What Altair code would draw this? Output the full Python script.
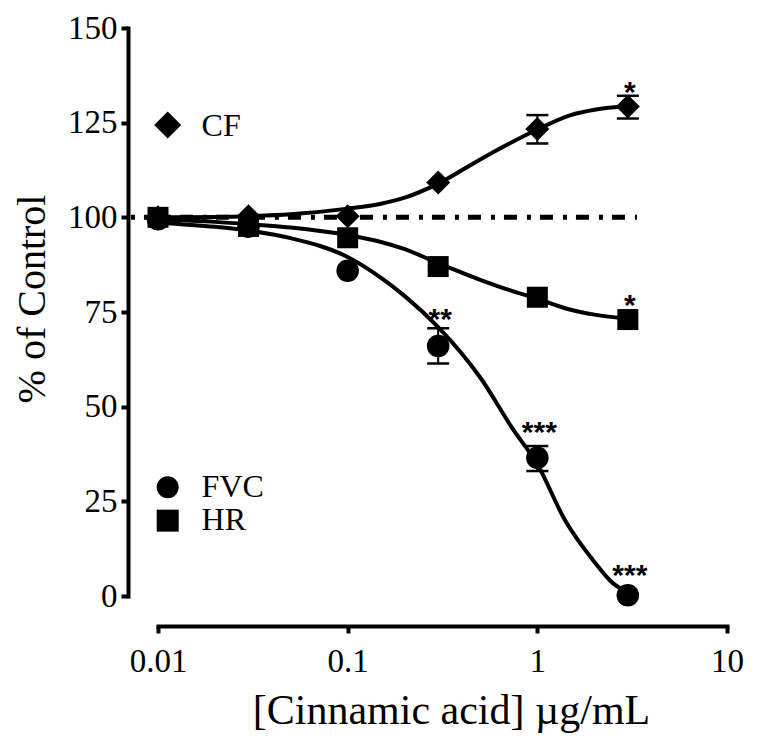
import altair as alt
import pandas as pd

# ---- measured data (means) ----
dose = [0.01, 0.03, 0.1, 0.3, 1, 3]
cf_mean = [100.0, 100.3, 100.3, 109.2, 123.3, 129.3]
hr_mean = [100.0, 97.6, 94.6, 87.0, 78.9, 73.0]
fvc_mean = [99.5, 97.5, 85.9, 66.0, 36.5, 0.2]

# ---- error bars (SEM) ----
err_series = ["CF", "CF", "FVC", "FVC"]
err_dose = [1, 3, 0.3, 1]
err_lo = [119.5, 126.1, 61.4, 33.0]
err_hi = [127.0, 132.1, 70.7, 39.6]

# ---- fitted curves ----
cf_fit_x = [0.01, 0.02, 0.03, 0.05, 0.1, 0.15, 0.2, 0.3, 0.5, 0.7, 1, 1.5, 2, 3]
cf_fit_y = [100.0, 100.1, 100.3, 100.8, 102.3, 103.6, 105.2, 108.9, 115.3, 119.3, 123.2, 127.0, 128.4, 129.4]
hr_fit_x = [0.01, 0.02, 0.03, 0.05, 0.1, 0.15, 0.2, 0.3, 0.5, 0.7, 1, 1.5, 2, 3]
hr_fit_y = [99.4, 98.8, 98.2, 97.3, 95.3, 93.5, 91.6, 87.9, 83.5, 80.9, 78.5, 75.6, 74.3, 73.2]
fvc_fit_x = [0.01, 0.02, 0.03, 0.05, 0.1, 0.15, 0.2, 0.3, 0.5, 0.75, 1, 1.4, 2, 2.5, 3]
fvc_fit_y = [98.6, 97.5, 96.5, 94.5, 89.5, 84.0, 79.2, 71.0, 57.7, 43.8, 34.8, 20.0, 9.0, 3.4, 1.0]

# ---- control (100 %) reference line ----
ref_x = [0.0072, 3.35]
ref_y = 100

# ---- significance marks ----
star_text = ["*", "*", "**", "***", "***"]
star_x = [3, 3, 0.3, 1, 3]
star_y = [134.9, 78.8, 75.0, 45.1, 7.3]

# ---- in-plot legend ----
legend_label = ["CF", "FVC", "HR"]
legend_shape = ["diamond", "circle", "square"]
legend_x = 0.01125
legend_y = [124.4, 28.7, 19.9]
legend_text_x = 0.01698
legend_text_y = [121.5, 26.2, 17.4]

series = ["CF", "FVC", "HR"]
shapes = ["diamond", "circle", "square"]
sizes = [576, 441, 462]

points = pd.DataFrame({
    "dose": dose * 3,
    "value": cf_mean + fvc_mean + hr_mean,
    "series": ["CF"] * 6 + ["FVC"] * 6 + ["HR"] * 6,
})
fits = pd.DataFrame({
    "dose": cf_fit_x + fvc_fit_x + hr_fit_x,
    "value": cf_fit_y + fvc_fit_y + hr_fit_y,
    "series": ["CF"] * len(cf_fit_x) + ["FVC"] * len(fvc_fit_x) + ["HR"] * len(hr_fit_x),
})
errs = pd.DataFrame({"series": err_series, "dose": err_dose, "lo": err_lo, "hi": err_hi})
ref = pd.DataFrame({"x1": [ref_x[0]], "x2": [ref_x[1]], "y": [ref_y]})
stars = pd.DataFrame({"t": star_text, "dose": star_x, "value": star_y})

xscale = alt.Scale(type="log", domain=[0.01, 10])
yscale = alt.Scale(domain=[0, 150])

xaxis = alt.Axis(
    values=[0.01, 0.1, 1, 10], format="~g", title="[Cinnamic acid] µg/mL",
    offset=30, labelPadding=12, labelFlush=False, labelFontSize=33,
    titleFontSize=42, titleX=293, titleY=97, titleBaseline="alphabetic",
    titleAlign="center", grid=False,
)
yaxis = alt.Axis(
    values=[0, 25, 50, 75, 100, 125, 150], title="% of Control",
    offset=30, labelPadding=4, labelFontSize=33,
    titleFontSize=40, titleX=-84, titleY=270.5, titleAngle=270,
    titleBaseline="alphabetic", titleAlign="center", grid=False,
)

X = alt.X("dose:Q", scale=xscale, axis=xaxis)
Y = alt.Y("value:Q", scale=yscale, axis=yaxis)

ref_layer = alt.Chart(ref).mark_rule(
    color="black", strokeWidth=5, strokeDash=[4, 9, 13, 10], strokeCap="butt"
).encode(
    x=alt.X("x1:Q", scale=xscale, axis=xaxis),
    x2="x2:Q",
    y=alt.Y("y:Q", scale=yscale, axis=yaxis),
)

fit_layer = alt.Chart(fits).mark_line(
    color="black", strokeWidth=4, interpolate="monotone"
).encode(x=X, y=Y, detail="series:N")

err_rule = alt.Chart(errs).mark_rule(color="black", strokeWidth=2).encode(
    x=alt.X("dose:Q", scale=xscale, axis=xaxis),
    y=alt.Y("lo:Q", scale=yscale, axis=yaxis),
    y2="hi:Q",
)
err_lo_tick = alt.Chart(errs).mark_tick(
    color="black", orient="horizontal", size=22, thickness=2.5, opacity=1
).encode(x=alt.X("dose:Q", scale=xscale, axis=xaxis), y=alt.Y("lo:Q", scale=yscale, axis=yaxis))
err_hi_tick = alt.Chart(errs).mark_tick(
    color="black", orient="horizontal", size=22, thickness=2.5, opacity=1
).encode(x=alt.X("dose:Q", scale=xscale, axis=xaxis), y=alt.Y("hi:Q", scale=yscale, axis=yaxis))

point_layer = alt.Chart(points).mark_point(
    filled=True, color="black", opacity=1, strokeWidth=0
).encode(
    x=X, y=Y,
    shape=alt.Shape("series:N", scale=alt.Scale(domain=series, range=shapes), legend=None),
    size=alt.Size("series:N", scale=alt.Scale(domain=series, range=sizes), legend=None),
)

legend_sizes = {"diamond": 729, "circle": 484, "square": 484}
legend_layers = []
for lab, shp, ly, ty in zip(legend_label, legend_shape, legend_y, legend_text_y):
    dfm = pd.DataFrame({"dose": [legend_x], "value": [ly]})
    legend_layers.append(
        alt.Chart(dfm).mark_point(
            filled=True, color="black", opacity=1, shape=shp,
            size=legend_sizes[shp], strokeWidth=0,
        ).encode(x=X, y=Y)
    )
    dft = pd.DataFrame({"dose": [legend_text_x], "value": [ty], "t": [lab]})
    legend_layers.append(
        alt.Chart(dft).mark_text(
            align="left", baseline="alphabetic", font="Liberation Serif",
            fontSize=32, color="black",
        ).encode(x=X, y=Y, text="t:N")
    )

star_layer = alt.Chart(stars).mark_text(
    font="Liberation Sans", fontWeight="bold", fontSize=30, color="black",
    baseline="middle", align="center", dx=2, dy=8,
).encode(x=X, y=Y, text="t:N")

chart = alt.layer(
    ref_layer, fit_layer, err_rule, err_lo_tick, err_hi_tick, point_layer,
    *legend_layers, star_layer,
).properties(
    width=569, height=568,
    background="white",
    autosize=alt.AutoSizeParams(type="none"),
    padding={"left": 150, "top": 20, "right": 20, "bottom": 140},
).configure_view(stroke=None).configure_axis(
    domainColor="black", domainWidth=4, domainCap="square",
    tickColor="black", tickWidth=4, tickSize=7,
    labelColor="black", titleColor="black",
    labelFont="Liberation Serif", titleFont="Liberation Serif",
    labelFontWeight="normal", titleFontWeight="normal",
)

chart.save("out.html", embed_options={"renderer": "svg", "actions": False})
